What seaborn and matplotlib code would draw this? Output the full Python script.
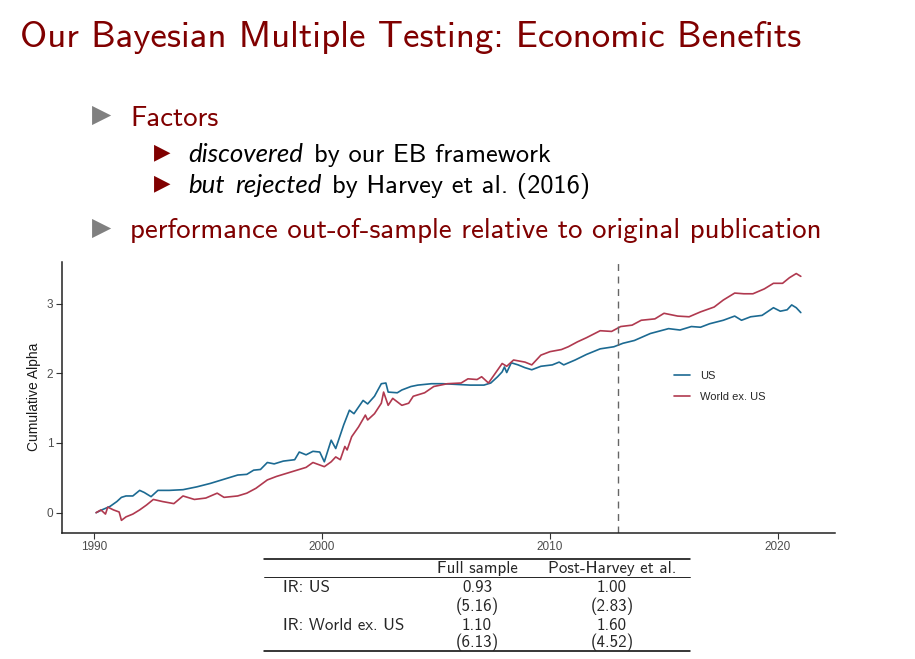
import pandas as pd
import matplotlib
matplotlib.use('Agg')
import matplotlib.pyplot as plt
import seaborn as sns

# values
us_year = [1990.09, 1990.34, 1990.7, 1991.0, 1991.2, 1991.4, 1991.7, 1992.0, 1992.2, 1992.5,
           1992.8, 1993.3, 1993.9, 1994.5, 1995.1, 1995.7, 1996.3, 1996.7, 1997.0, 1997.3,
           1997.6, 1997.9, 1998.3, 1998.8, 1999.0, 1999.3, 1999.6, 1999.9, 2000.1, 2000.4,
           2000.6, 2000.95, 2001.2, 2001.4, 2001.8, 2002.0, 2002.3, 2002.6, 2002.8, 2002.9,
           2003.3, 2003.5, 2003.9, 2004.2, 2004.8, 2005.3, 2005.9, 2006.5, 2007.1, 2007.4,
           2007.7, 2007.9, 2008.0, 2008.1, 2008.3, 2008.6, 2008.9, 2009.2, 2009.6, 2010.1,
           2010.4, 2010.6, 2011.1, 2011.6, 2012.2, 2012.8, 2013.2, 2013.7, 2014.4, 2015.2,
           2015.7, 2016.2, 2016.6, 2017.0, 2017.6, 2018.1, 2018.4, 2018.8, 2019.3, 2019.8,
           2020.1, 2020.4, 2020.6, 2020.8, 2021.0]
us_alpha = [0.00, 0.04, 0.09, 0.16, 0.22, 0.24, 0.24, 0.32, 0.29, 0.23,
            0.32, 0.32, 0.33, 0.37, 0.42, 0.48, 0.54, 0.55, 0.61, 0.62,
            0.72, 0.70, 0.74, 0.76, 0.87, 0.83, 0.88, 0.87, 0.73, 1.04,
            0.92, 1.26, 1.47, 1.42, 1.61, 1.56, 1.67, 1.85, 1.86, 1.73,
            1.72, 1.76, 1.81, 1.83, 1.85, 1.85, 1.84, 1.83, 1.83, 1.86,
            1.95, 2.02, 2.09, 2.01, 2.15, 2.12, 2.08, 2.05, 2.10, 2.12,
            2.16, 2.12, 2.19, 2.27, 2.35, 2.38, 2.43, 2.47, 2.57, 2.64,
            2.62, 2.67, 2.66, 2.71, 2.76, 2.82, 2.76, 2.81, 2.83, 2.94,
            2.89, 2.91, 2.98, 2.94, 2.87]

world_year = [1990.09, 1990.3, 1990.5, 1990.6, 1990.85, 1991.1, 1991.2, 1991.4, 1991.7, 1992.0,
              1992.3, 1992.6, 1993.0, 1993.5, 1993.9, 1994.4, 1994.9, 1995.4, 1995.7, 1996.3,
              1996.7, 1997.1, 1997.6, 1998.0, 1998.5, 1998.9, 1999.3, 1999.6, 2000.1, 2000.4,
              2000.6, 2000.8, 2001.0, 2001.1, 2001.3, 2001.6, 2001.9, 2002.0, 2002.3, 2002.6,
              2002.7, 2002.9, 2003.1, 2003.3, 2003.5, 2003.8, 2004.0, 2004.5, 2004.9, 2005.5,
              2006.1, 2006.4, 2006.8, 2007.0, 2007.3, 2007.6, 2007.9, 2008.1, 2008.4, 2008.9,
              2009.2, 2009.6, 2010.0, 2010.5, 2010.8, 2011.2, 2011.6, 2012.2, 2012.7, 2013.1,
              2013.6, 2014.0, 2014.6, 2015.0, 2015.6, 2016.1, 2016.6, 2017.2, 2017.6, 2018.1,
              2018.5, 2018.9, 2019.4, 2019.8, 2020.2, 2020.5, 2020.8, 2021.0]
world_alpha = [0.00, 0.04, -0.02, 0.08, 0.04, 0.01, -0.11, -0.06, -0.02, 0.04,
               0.11, 0.19, 0.16, 0.13, 0.24, 0.19, 0.21, 0.28, 0.22, 0.24,
               0.28, 0.35, 0.47, 0.52, 0.57, 0.61, 0.65, 0.72, 0.66, 0.73,
               0.80, 0.76, 0.95, 0.90, 1.09, 1.23, 1.40, 1.33, 1.42, 1.57,
               1.73, 1.54, 1.64, 1.59, 1.54, 1.57, 1.67, 1.72, 1.81, 1.85,
               1.86, 1.92, 1.91, 1.95, 1.86, 2.00, 2.14, 2.10, 2.19, 2.16,
               2.12, 2.26, 2.31, 2.34, 2.38, 2.45, 2.51, 2.61, 2.60, 2.67,
               2.69, 2.76, 2.78, 2.86, 2.82, 2.81, 2.88, 2.95, 3.05, 3.15,
               3.14, 3.14, 3.21, 3.29, 3.29, 3.37, 3.43, 3.39]

series_names = ['US', 'World ex. US']
harvey_year = 2013.0

table_header = ['Full sample', 'Post-Harvey et al.']
table_rows = ['IR: US', '', 'IR: World ex. US', '']
table_full = ['0.93', '(5.16)', '1.10', '(6.13)']
table_post = ['1.00', '(2.83)', '1.60', '(4.52)']

df = pd.concat([
    pd.DataFrame({'year': us_year, 'alpha': us_alpha, 'series': series_names[0]}),
    pd.DataFrame({'year': world_year, 'alpha': world_alpha, 'series': series_names[1]}),
], ignore_index=True)

sns.set_style('ticks')
W, H = 915, 659
fig = plt.figure(figsize=(W / 100, H / 100), dpi=100)

# slide layer, one data unit = one pixel, y going down
slide = fig.add_axes([0, 0, 1, 1])
slide.set_xlim(0, W)
slide.set_ylim(H, 0)
slide.axis('off')
renderer = fig.canvas.get_renderer()

darkred = '#800000'
cm = 'cmss10'

slide.text(20, 47, 'Our Bayesian Multiple Testing: Economic Benefits',
           fontsize=26.6, family=cm, color=darkred, va='baseline')


def put(x, y, parts, size, color):
    # writes words one after the other, italic ones in Lato
    for txt, ital in parts:
        if ital:
            t = slide.text(x, y, txt, fontsize=size * 0.98, family='Lato', style='italic',
                           color=color, va='baseline')
        else:
            t = slide.text(x, y, txt, fontsize=size, family=cm, color=color, va='baseline')
        x += t.get_window_extent(renderer).width + size * 0.56


def tri(x, y, size, color):
    slide.text(x, y, '\u25B6', fontsize=size, family='DejaVu Sans', color=color,
               va='center', ha='left')


tri(92, 115, 18, '#808080')
put(130, 126, [('Factors', False)], 20.7, darkred)
tri(154, 152, 15.5, darkred)
put(188, 162, [('discovered', True), ('by our EB framework', False)], 19, 'black')
tri(154, 183, 15.5, darkred)
put(188, 193, [('but', True), ('rejected', True), ('by Harvey et al. (2016)', False)], 19, 'black')
tri(92, 228, 18, '#808080')
put(130, 238, [('performance out-of-sample relative to original publication', False)], 20.8, darkred)

# chart
ax = fig.add_axes([61.7 / W, 1 - 532.7 / H, (835 - 61.7) / W, (532.7 - 261.7) / H])
sns.lineplot(data=df, x='year', y='alpha', hue='series', palette=['#1c6a92', '#b0394f'],
             estimator=None, sort=False, linewidth=1.2, ax=ax)
ax.axvline(harvey_year, color='#666666', linestyle=(0, (5, 4)), linewidth=1.0)
ax.set_xlim(1988.58, 2022.5)
ax.set_ylim(-0.287, 3.6)
ax.set_xticks([1990, 2000, 2010, 2020])
ax.set_yticks([0, 1, 2, 3])
ax.set_xlabel('')
ax.set_ylabel('Cumulative Alpha', fontsize=10, family='Liberation Sans', color='#1a1a1a')
ax.tick_params(labelsize=8.5, labelcolor='#4d4d4d', length=4, width=0.8, color='#333333', pad=2)
for lab in ax.get_xticklabels() + ax.get_yticklabels():
    lab.set_family('Liberation Sans')
sns.despine(ax=ax)
for s in ['left', 'bottom']:
    ax.spines[s].set_linewidth(1.1)
    ax.spines[s].set_color('#222222')
ax.legend(loc='center left', bbox_to_anchor=(0.7918, 0.5395), frameon=False, title=None,
          prop={'family': 'Liberation Sans', 'size': 8}, handlelength=1.45, handletextpad=0.9,
          labelspacing=0.95, borderpad=0, borderaxespad=0)

# table below the chart
slide.plot([264, 690], [559, 559], color='black', lw=1.1)
slide.plot([264, 690], [577, 577], color='black', lw=0.6)
slide.plot([264, 690], [651, 651], color='black', lw=1.1)
col_x = [477, 612]
for cx, head in zip(col_x, table_header):
    slide.text(cx, 573.5, head, fontsize=12.2, family=cm, ha='center', va='baseline')
row_y = [592.5, 611, 629.5, 647]
for y, name, a, b in zip(row_y, table_rows, table_full, table_post):
    slide.text(283, y, name, fontsize=12.2, family=cm, va='baseline')
    slide.text(col_x[0], y, a, fontsize=12.2, family=cm, ha='center', va='baseline')
    slide.text(col_x[1], y, b, fontsize=12.2, family=cm, ha='center', va='baseline')

fig.savefig('out.png', dpi=100)
